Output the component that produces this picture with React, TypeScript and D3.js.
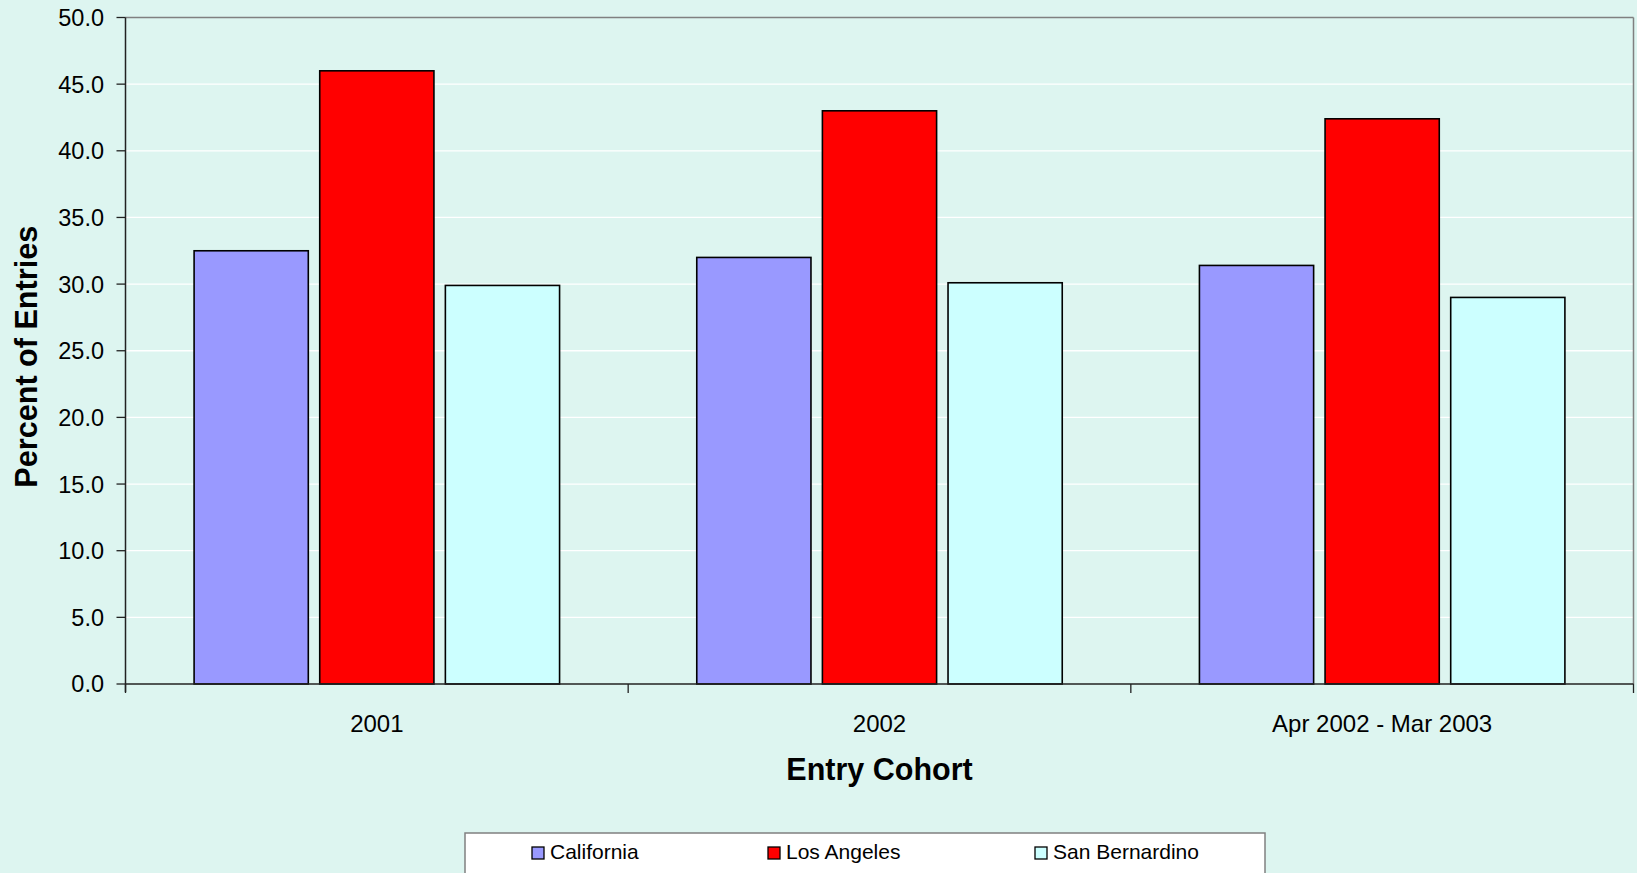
import React from "react";
import * as d3 from "d3";

const categories = ["2001", "2002", "Apr 2002 - Mar 2003"];
const seriesNames = ["California", "Los Angeles", "San Bernardino"];
const california = [32.5, 32.0, 31.4];
const losAngeles = [46.0, 43.0, 42.4];
const sanBernardino = [29.9, 30.1, 29.0];
const yTicks = [0, 5, 10, 15, 20, 25, 30, 35, 40, 45, 50];
const colors = ["#9999FF", "#FF0000", "#CCFFFF"];

const W = 1637;
const H = 873;
const plotL = 125.5;
const plotR = 1633.5;
const plotT = 17.5;
const plotB = 684;
const FONT = "'Liberation Sans', Arial, sans-serif";

export default function App() {
  const seriesValues = [california, losAngeles, sanBernardino];
  const x0 = d3.scaleBand<string>().domain(categories).range([plotL, plotR]).padding(0);
  const x1 = d3
    .scaleBand<string>()
    .domain(seriesNames)
    .range([0, x0.bandwidth()])
    .paddingInner(0.091)
    .paddingOuter(0.546);
  const y = d3.scaleLinear().domain([0, 50]).range([plotB, plotT]);

  const legendX = [532, 768, 1035];

  return (
    <svg
      width={W}
      height={H}
      style={{ position: "fixed", left: 0, top: 0, display: "block" }}
      fontFamily={FONT}
    >
      <rect x={0} y={0} width={W} height={H} fill="#DDF5F0" />
      {/* gridlines */}
      {yTicks.slice(1, -1).map((t) => (
        <line key={"g" + t} x1={plotL} x2={plotR} y1={y(t)} y2={y(t)} stroke="#FFFFFF" strokeWidth={1.3} />
      ))}
      {/* plot border top/right */}
      <line x1={plotL} x2={plotR} y1={plotT} y2={plotT} stroke="#808080" strokeWidth={1.5} />
      <line x1={plotR} x2={plotR} y1={plotT} y2={plotB} stroke="#808080" strokeWidth={1.5} />
      {/* bars */}
      {categories.map((c, ci) => (
        <g key={c}>
          {seriesNames.map((s, si) => {
            const v = seriesValues[si][ci];
            const bx = (x0(c) as number) + (x1(s) as number);
            return (
              <rect
                key={s}
                x={bx}
                y={y(v)}
                width={x1.bandwidth()}
                height={plotB - y(v)}
                fill={colors[si]}
                stroke="#000"
                strokeWidth={1.6}
              />
            );
          })}
        </g>
      ))}
      {/* axes */}
      <line x1={plotL} x2={plotL} y1={plotT} y2={plotB + 8} stroke="#222" strokeWidth={1.5} />
      <line x1={plotL} x2={plotR} y1={plotB} y2={plotB} stroke="#222" strokeWidth={1.5} />
      {yTicks.map((t) => (
        <g key={"t" + t}>
          <line x1={plotL - 9} x2={plotL} y1={y(t)} y2={y(t)} stroke="#222" strokeWidth={1.3} />
          <text x={104} y={y(t)} dy="0.36em" textAnchor="end" fontSize={23.5} fill="#000">
            {t.toFixed(1)}
          </text>
        </g>
      ))}
      {[...categories.map((c) => x0(c) as number), plotR].map((xv, i) => (
        <line key={"xt" + i} x1={xv} x2={xv} y1={plotB} y2={plotB + 9} stroke="#222" strokeWidth={1.3} />
      ))}
      {categories.map((c) => (
        <text
          key={"xl" + c}
          x={(x0(c) as number) + x0.bandwidth() / 2}
          y={732}
          textAnchor="middle"
          fontSize={24}
          fill="#000"
        >
          {c}
        </text>
      ))}
      {/* axis titles */}
      <text x={(plotL + plotR) / 2} y={780} textAnchor="middle" fontSize={30.5} fontWeight="bold" fill="#000">
        Entry Cohort
      </text>
      <text
        transform={`translate(37,${(plotT + plotB) / 2 + 6}) rotate(-90)`}
        textAnchor="middle"
        fontSize={30.6}
        fontWeight="bold"
        fill="#000"
      >
        Percent of Entries
      </text>
      {/* legend */}
      <rect x={465} y={833} width={800} height={60} fill="#FFFFFF" stroke="#808080" strokeWidth={1.5} />
      {seriesNames.map((s, i) => (
        <g key={"lg" + s}>
          <rect x={legendX[i]} y={847} width={12} height={12} fill={colors[i]} stroke="#000" strokeWidth={1.3} />
          <text x={legendX[i] + 18} y={859} fontSize={21} fill="#000">
            {s}
          </text>
        </g>
      ))}
    </svg>
  );
}
